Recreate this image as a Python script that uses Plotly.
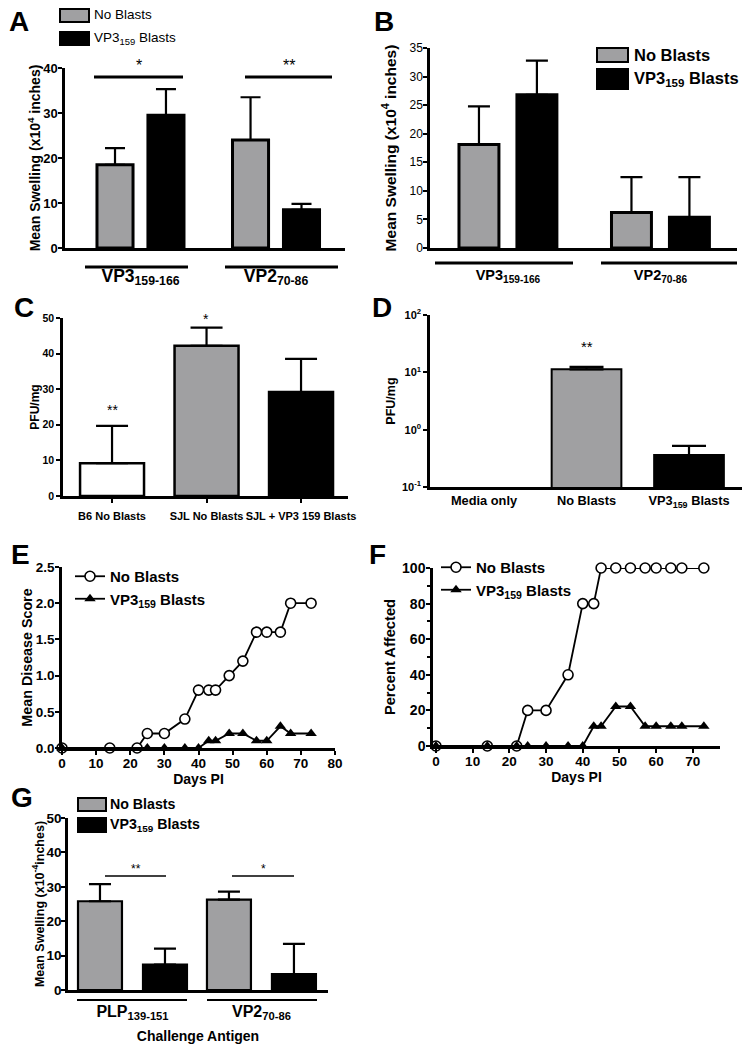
import plotly.graph_objects as go

W, H = 750, 1050
FONT = "Liberation Sans, Arial, sans-serif"
GRAY = "#a0a0a2"

# ---------------- data ----------------
# Panel A
a_groups = ["VP3<sub>159-166</sub>", "VP2<sub>70-86</sub>"]
a_no_blasts = [18.5, 24.0]
a_no_blasts_err = [3.7, 9.5]
a_vp3_blasts = [29.5, 8.5]
a_vp3_blasts_err = [5.8, 1.3]

# Panel B
b_groups = ["VP3<sub>159-166</sub>", "VP2<sub>70-86</sub>"]
b_no_blasts = [18.1, 6.2]
b_no_blasts_err = [6.7, 6.2]
b_vp3_blasts = [26.8, 5.4]
b_vp3_blasts_err = [6.0, 7.0]

# Panel C
c_groups = ["B6 No Blasts", "SJL No Blasts", "SJL + VP3 159 Blasts"]
c_values = [9.2, 42.2, 29.2]
c_err = [10.5, 5.1, 9.3]
c_colors = ["white", GRAY, "black"]

# Panel D
d_groups = ["Media only", "No Blasts", "VP3<sub>159</sub> Blasts"]
d_values = [None, 11.3, 0.36]
d_err = [0, 1.2, 0.16]
d_colors = ["white", GRAY, "black"]
d_tickvals = [0.1, 1, 10, 100]
d_ticktext = ["10<sup>-1</sup>", "10<sup>0</sup>", "10<sup>1</sup>", "10<sup>2</sup>"]

# Panel E
e_days_nb = [0, 14, 22, 25, 30, 36, 40, 43, 45, 49, 53, 57, 60, 64, 67, 73]
e_score_nb = [0, 0, 0, 0.2, 0.2, 0.4, 0.8, 0.8, 0.8, 1.0, 1.2, 1.6, 1.6, 1.6, 2.0, 2.0]
e_days_vp = [0, 25, 30, 36, 40, 43, 45, 49, 53, 57, 60, 64, 67, 73]
e_score_vp = [0, 0, 0, 0, 0, 0.1, 0.1, 0.2, 0.2, 0.1, 0.1, 0.3, 0.2, 0.2]

# Panel F
f_days = [0, 14, 22, 25, 30, 36, 40, 43, 45, 49, 53, 57, 60, 64, 67, 73]
f_pct_nb = [0, 0, 0, 20, 20, 40, 80, 80, 100, 100, 100, 100, 100, 100, 100, 100]
f_pct_vp = [0, 0, 0, 0, 0, 0, 0, 11.1, 11.1, 22.2, 22.2, 11.1, 11.1, 11.1, 11.1, 11.1]

# Panel G
g_groups = ["PLP<sub>139-151</sub>", "VP2<sub>70-86</sub>"]
g_no_blasts = [25.8, 26.3]
g_no_blasts_err = [5.0, 2.3]
g_vp3_blasts = [7.4, 4.6]
g_vp3_blasts_err = [4.6, 8.8]

# ---------------- helpers ----------------
def px(x):
    return x / W


def py(y):
    return 1 - y / H


def dx(l, r):
    return [l / W, r / W]


def dy(t, b):
    return [1 - b / H, 1 - t / H]


def f(size, bold=True):
    d = dict(family=FONT, size=size, color="black")
    if bold:
        d["weight"] = "bold"
    return d


fig = go.Figure()
shapes = []
annots = []


def bar_pair(groups, v1, e1, v2, e2, ax, w, gap, capw, lw=2.5):
    xa, ya = ax
    fig.add_trace(go.Bar(
        x=groups, y=v1, name="No Blasts", width=w, offset=-w - gap / 2,
        marker=dict(color=GRAY, line=dict(color="black", width=lw)),
        error_y=dict(type="data", array=e1, symmetric=False, arrayminus=[0] * len(v1),
                     color="black", thickness=2.2, width=capw),
        xaxis=xa, yaxis=ya, showlegend=False))
    fig.add_trace(go.Bar(
        x=groups, y=v2, name="VP3159 Blasts", width=w, offset=gap / 2,
        marker=dict(color="black", line=dict(color="black", width=lw)),
        error_y=dict(type="data", array=e2, symmetric=False, arrayminus=[0] * len(v2),
                     color="black", thickness=2.2, width=capw),
        xaxis=xa, yaxis=ya, showlegend=False))


def hline(x0, x1, y, w=3):
    shapes.append(dict(type="line", xref="paper", yref="paper", x0=px(x0), x1=px(x1),
                       y0=py(y), y1=py(y), line=dict(color="black", width=w)))


def text(x, y, t, size, bold=True, xanchor="center"):
    annots.append(dict(xref="paper", yref="paper", x=px(x), y=py(y), text=t, showarrow=False,
                       xanchor=xanchor, yanchor="middle", font=f(size, bold)))


def legbox(x0, x1, y0, y1, color):
    shapes.append(dict(type="rect", xref="paper", yref="paper", x0=px(x0), x1=px(x1),
                       y0=py(y1), y1=py(y0), fillcolor=color,
                       line=dict(color="black", width=2)))


# ---------------- traces ----------------
bar_pair(a_groups, a_no_blasts, a_no_blasts_err, a_vp3_blasts, a_vp3_blasts_err,
         ("x", "y"), 0.266, 0.11, 10, 3)
bar_pair(b_groups, b_no_blasts, b_no_blasts_err, b_vp3_blasts, b_vp3_blasts_err,
         ("x2", "y2"), 0.262, 0.118, 11, 3)

fig.add_trace(go.Bar(
    x=c_groups, y=c_values, width=0.677,
    marker=dict(color=c_colors, line=dict(color="black", width=2.5)),
    error_y=dict(type="data", array=c_err, symmetric=False, arrayminus=[0] * 3,
                 color="black", thickness=2.2, width=16),
    xaxis="x3", yaxis="y3", showlegend=False))

fig.add_trace(go.Bar(
    x=d_groups, y=d_values, width=0.68,
    marker=dict(color=d_colors, line=dict(color="black", width=2)),
    error_y=dict(type="data", array=d_err, symmetric=False, arrayminus=[0] * 3,
                 color="black", thickness=2.2, width=17),
    xaxis="x4", yaxis="y4", showlegend=False))

fig.add_trace(go.Scatter(
    x=e_days_nb, y=e_score_nb, mode="lines+markers", name="No Blasts",
    line=dict(color="black", width=1.8),
    marker=dict(symbol="circle", size=10, color="white", line=dict(color="black", width=1.6)),
    xaxis="x5", yaxis="y5", legend="legend", cliponaxis=False))
fig.add_trace(go.Scatter(
    x=e_days_vp, y=e_score_vp, mode="lines+markers", name="VP3<sub>159</sub> Blasts",
    line=dict(color="black", width=1.8),
    marker=dict(symbol="triangle-up", size=10, color="black"),
    xaxis="x5", yaxis="y5", legend="legend", cliponaxis=False))

fig.add_trace(go.Scatter(
    x=f_days, y=f_pct_nb, mode="lines+markers", name="No Blasts",
    line=dict(color="black", width=1.8),
    marker=dict(symbol="circle", size=10, color="white", line=dict(color="black", width=1.6)),
    xaxis="x6", yaxis="y6", legend="legend2", cliponaxis=False))
fig.add_trace(go.Scatter(
    x=f_days, y=f_pct_vp, mode="lines+markers", name="VP3<sub>159</sub> Blasts",
    line=dict(color="black", width=1.8),
    marker=dict(symbol="triangle-up", size=10, color="black"),
    xaxis="x6", yaxis="y6", legend="legend2", cliponaxis=False))

bar_pair(g_groups, g_no_blasts, g_no_blasts_err, g_vp3_blasts, g_vp3_blasts_err,
         ("x7", "y7"), 0.341, 0.163, 11, 2.2)

# ---------------- axes ----------------
base = dict(showline=True, linecolor="black", linewidth=2.5, showgrid=False, zeroline=False,
            ticks="outside", tickcolor="black", tickwidth=2, ticklen=4, mirror=False,
            automargin=False, tickangle=0)

def xa(dom, anchor, **kw):
    d = dict(base)
    d.update(domain=dom, anchor=anchor)
    d.update(kw)
    return d

layout_axes = dict(
    # A
    xaxis=xa(dx(65, 345), "y", type="category", range=[-0.557, 1.509], ticks="",
             tickfont=f(17.5), ticklabelstandoff=10),
    yaxis=xa(dy(68, 248), "x", range=[0, 40], dtick=10, tickfont=f(13), ticklabelstandoff=-2,
             title=dict(text="Mean Swelling (x10<sup>4</sup> inches)", font=f(14), standoff=0)),
    # B
    xaxis2=xa(dx(430, 737), "y2", type="category", range=[-0.511, 1.502], ticks="",
              tickfont=f(14.5), ticklabelstandoff=12),
    yaxis2=xa(dy(48, 248), "x2", range=[0, 35], dtick=5, tickfont=f(12, False),
              ticklabelstandoff=-2,
              title=dict(text="Mean Swelling (x10<sup>4</sup> inches)", font=f(15.5), standoff=10)),
    # C
    xaxis3=xa(dx(63, 348), "y3", type="category", range=[-0.519, 2.497], tickfont=f(11),
              ticklabelstandoff=4),
    yaxis3=xa(dy(318, 496), "x3", range=[0, 50], dtick=10, tickfont=f(10.5),
              title=dict(text="PFU/mg", font=f(12), standoff=0)),
    # D
    xaxis4=xa(dx(430, 742), "y4", type="category", range=[-0.527, 2.517], ticks="",
              tickfont=f(12.8), ticklabelstandoff=0),
    yaxis4=xa(dy(315, 487), "x4", type="log", range=[-1, 2], tickvals=d_tickvals,
              ticktext=d_ticktext, tickfont=f(11),
              title=dict(text="PFU/mg", font=f(12.5), standoff=4)),
    # E
    xaxis5=xa(dx(62, 335), "y5", range=[0, 80], dtick=10, tickfont=f(13.5),
              ticklabelstandoff=-3,
              title=dict(text="Days PI", font=f(14), standoff=5)),
    yaxis5=xa(dy(567, 748), "x5", range=[0, 2.5], dtick=0.5, tickformat=".1f", tickfont=f(13.5),
              ticklabelstandoff=-2,
              title=dict(text="Mean Disease Score", font=f(14.3), standoff=0)),
    # F
    xaxis6=xa(dx(433, 720), "y6", range=[-0.8, 77.4], tickvals=[0, 10, 20, 30, 40, 50, 60, 70],
              tickfont=f(13.5), ticklabelstandoff=-3,
              title=dict(text="Days PI", font=f(14), standoff=5)),
    yaxis6=xa(dy(568, 746), "x6", range=[0, 100], dtick=20, tickfont=f(14),
              ticklabelstandoff=-2,
              minor=dict(dtick=10, ticklen=3, tickwidth=1.5, tickcolor="black", ticks="outside"),
              title=dict(text="Percent Affected", font=f(14.7), standoff=3)),
    # G
    xaxis7=xa(dx(68, 328), "y7", type="category", range=[-0.5, 1.516], ticks="",
              tickfont=f(16), ticklabelstandoff=5,
              title=dict(text="Challenge Antigen", font=f(14), standoff=10)),
    yaxis7=xa(dy(818, 990), "x7", range=[0, 50], dtick=10, tickfont=f(13.5),
              ticklabelstandoff=-3,
              title=dict(text="Mean Swelling (x10<sup>-4</sup>inches)", font=f(12.5), standoff=0)),
)

# ---------------- decorations ----------------
# A
hline(94, 183, 77, 3)
hline(245, 332, 77, 3)
text(138.5, 65, "*", 16, False)
text(288.5, 65, "**", 16, False)
hline(85, 188, 267, 3)
hline(225, 338, 267, 3)
legbox(60, 89, 9, 22, GRAY)
legbox(60, 89, 32, 45, "black")
text(92, 15, "No Blasts", 13.5, False, "left")
text(92, 38, "VP3<sub>159</sub> Blasts", 13.5, False, "left")
# B
hline(435, 573, 263, 3)
hline(601, 737, 263, 3)
legbox(597, 628, 48, 62, GRAY)
legbox(597, 628, 69, 89, "black")
text(632, 55, "No Blasts", 16.5, True, "left")
text(632, 79, "VP3<sub>159</sub> Blasts", 16.5, True, "left")
# C
text(112, 410, "**", 14, False)
text(205.5, 319, "*", 14, False)
# D
text(586.5, 346, "**", 15, False)
# G
hline(105, 166, 876, 1.5)
hline(232, 294, 876, 1.5)
text(135.5, 869, "**", 12, False)
text(263, 869, "*", 12, False)
hline(77, 187, 1000, 2)
hline(207, 317, 1000, 2)
legbox(78, 106, 798, 811, GRAY)
legbox(78, 106, 818, 832, "black")
text(108, 804, "No Blasts", 14.2, True, "left")
text(108, 825, "VP3<sub>159</sub> Blasts", 14.2, True, "left")

# panel letters
for lx, ly, lt in [(7, 22, "A"), (372, 22, "B"), (12, 307, "C"), (370, 307, "D"),
                   (9, 554, "E"), (367, 554, "F"), (9, 797, "G")]:
    text(lx, ly, lt, 28, True, "left")

legend_style = dict(bgcolor="rgba(0,0,0,0)", font=f(15), xanchor="left", yanchor="top",
                    itemwidth=30, tracegroupgap=0)

fig.update_layout(
    width=W, height=H, margin=dict(l=0, r=0, t=0, b=0, autoexpand=False),
    paper_bgcolor="white", plot_bgcolor="white",
    font=dict(family=FONT, color="black"),
    barmode="overlay",
    shapes=shapes, annotations=annots,
    legend=dict(legend_style, x=px(70), y=py(560)),
    legend2=dict(legend_style, x=px(436), y=py(551)),
    **layout_axes,
)

fig.write_html("out.html", config={"displayModeBar": False},
               post_script="document.body.style.margin='0';document.body.style.padding='0';")
